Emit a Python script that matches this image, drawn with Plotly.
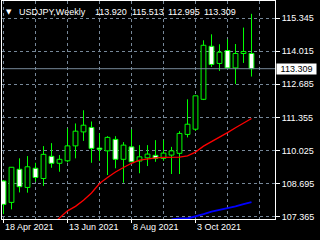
import plotly.graph_objects as go
import pandas as pd

# ---- data (weekly USDJPY candles) ----
weeks = pd.date_range("2021-04-18", periods=32, freq="7D")
opens = [108.80, 107.94, 109.27, 108.54, 109.31, 108.90, 109.79, 109.51, 109.61, 110.21,
         110.77, 110.95, 110.12, 110.01, 110.47, 109.67, 110.17, 109.60, 109.73, 109.83,
         109.71, 109.84, 109.91, 110.67, 110.88, 112.08, 114.21, 113.52, 114.04, 113.34,
         113.92, 113.920]
highs = [108.84, 109.36, 109.71, 109.80, 109.53, 110.20, 110.32, 109.84, 110.91, 111.11,
         111.64, 111.19, 110.71, 110.60, 110.60, 110.36, 110.87, 110.24, 110.24, 110.44,
         110.44, 110.17, 110.80, 112.08, 112.22, 114.45, 114.69, 114.29, 114.49, 114.30,
         114.96, 115.513]
lows = [107.47, 107.66, 108.34, 108.33, 108.77, 108.60, 109.33, 109.17, 109.55, 109.71,
        110.41, 109.53, 109.61, 109.04, 109.31, 108.73, 109.57, 109.11, 109.40, 109.57,
        109.61, 109.08, 109.08, 110.55, 110.81, 112.05, 113.38, 113.22, 113.30, 112.69,
        113.54, 112.995]
closes = [107.86, 109.35, 108.57, 109.37, 108.94, 109.87, 109.51, 109.67, 110.21, 110.80,
          111.04, 110.11, 110.07, 110.55, 109.67, 110.24, 109.57, 109.77, 109.88, 109.71,
          109.92, 110.01, 110.71, 111.08, 112.22, 114.25, 113.48, 113.97, 113.34, 113.92,
          114.00, 113.309]
ma_red = [None] * 6 + [107.03, 107.33, 107.60, 107.78, 108.03, 108.32, 108.70, 108.94,
                       109.16, 109.34, 109.51, 109.64, 109.70, 109.73, 109.75, 109.75,
                       109.76, 109.81, 109.96, 110.20, 110.37, 110.56, 110.74, 110.94,
                       111.12, 111.31]
ma_blue = [None] * 21 + [107.25, 107.29, 107.29, 107.37, 107.47, 107.57, 107.63, 107.70,
                         107.78, 107.87, 107.95]
y_ticks = [107.365, 108.695, 110.025, 111.355, 112.685, 114.015, 115.345]
x_label_idx = [0, 8, 16, 24]
x_grid_minor = [4, 12, 20, 28, 32]
symbol = "USDJPY,Weekly"

FONT = "Liberation Sans, Arial, sans-serif"
LIME = "#00FF00"
GRID = "#778899"

idx = list(range(len(opens)))
fig = go.Figure()

# bodies
fig.add_trace(go.Bar(
    x=idx,
    base=[min(o, c) for o, c in zip(opens, closes)],
    y=[max(abs(c - o), 0.01) for o, c in zip(opens, closes)],
    width=0.6,
    marker=dict(color=["#FFFFFF" if c < o else "#000000" for o, c in zip(opens, closes)],
                line=dict(color=LIME, width=1)),
    hoverinfo="skip",
))

# wicks
wx, wy = [], []
for i, o, h, l, c in zip(idx, opens, highs, lows, closes):
    wx += [i, i, None, i, i, None]
    wy += [l, min(o, c), None, max(o, c), h, None]
fig.add_trace(go.Scatter(x=wx, y=wy, mode="lines", line=dict(color=LIME, width=1),
                         hoverinfo="skip"))

# moving averages
fig.add_trace(go.Scatter(x=idx, y=ma_red, mode="lines", line=dict(color="#FF0000", width=1.3),
                         hoverinfo="skip"))
fig.add_trace(go.Scatter(x=idx, y=ma_blue, mode="lines", line=dict(color="#0000FF", width=2),
                         hoverinfo="skip"))

# current price line
fig.add_shape(type="line", xref="paper", x0=0, x1=1, yref="y", y0=closes[-1], y1=closes[-1],
              line=dict(color=GRID, width=1))

fig.update_layout(
    width=320, height=240,
    margin=dict(l=2, r=45, t=1, b=21, pad=0),
    paper_bgcolor="#000000", plot_bgcolor="#000000",
    showlegend=False,
    font=dict(family=FONT, size=9, color="#FFFFFF"),
    barmode="overlay",
)

fig.update_xaxes(
    range=[-0.1875, 33.9375],
    tickmode="array", tickvals=x_label_idx, showticklabels=False,
    ticks="outside", ticklen=3, tickcolor="#FFFFFF",
    showgrid=True, gridcolor=GRID, griddash="3px,3px", gridwidth=1,
    minor=dict(tickmode="array", tickvals=x_grid_minor, showgrid=True, gridcolor=GRID,
               griddash="3px,3px", ticklen=0),
    showline=True, linecolor="#FFFFFF", linewidth=1, mirror=True,
    zeroline=False, fixedrange=True,
)
fig.update_yaxes(
    range=[107.273, 116.028], side="right",
    tickmode="array", tickvals=y_ticks, ticktext=[f"{v:.3f}" for v in y_ticks],
    ticks="outside", ticklen=4, tickcolor="#FFFFFF",
    tickfont=dict(family=FONT, size=9, color="#FFFFFF"),
    showgrid=True, gridcolor=GRID, griddash="3px,3px", gridwidth=1,
    showline=True, linecolor="#FFFFFF", linewidth=1, mirror=True,
    zeroline=False, fixedrange=True,
)

# x labels, left-aligned at their tick
for i in x_label_idx:
    d = weeks[i]
    fig.add_annotation(x=i, y=0, xref="x", yref="paper", xanchor="left", yanchor="top",
                       text=f"{d.day} {d.strftime('%b %Y')}", showarrow=False, yshift=-1,
                       xshift=-1, font=dict(family=FONT, size=9, color="#FFFFFF"))

# title
fig.add_annotation(x=6, y=239 - 11, xref="paper", yref="paper", text="▼", showarrow=False,
                   font=dict(family="DejaVu Sans", size=7, color="#FFFFFF"))
title_nums = [opens[-1], highs[-1], lows[-1], closes[-1]]
texts = [symbol] + [f"{v:.3f}" for v in title_nums]
xs = [17, 93, 129.5, 165.5, 201.5]
for t, xp in zip(texts, xs):
    fig.add_annotation(x=(xp - 2) / 273, y=1, xref="paper", yref="paper", xanchor="left",
                       yanchor="top", yshift=-4, text=t, showarrow=False,
                       font=dict(family=FONT, size=9, color="#FFFFFF"))

# current price label on the axis
fig.add_annotation(x=1, y=closes[-1], xref="paper", yref="y", xanchor="left", yanchor="middle",
                   xshift=1, text=f"{closes[-1]:.3f}", showarrow=False, bgcolor="#FFFFFF",
                   width=37, height=8, borderpad=1, align="center",
                   font=dict(family=FONT, size=9, color="#000000"))

# fix the '▼' annotation to paper coords
fig.layout.annotations[len(x_label_idx)].update(x=9 / 273 - 2 / 273, y=1, yanchor="top",
                                                 xanchor="center", yshift=-5)

fig.write_html("out.html", config={"displayModeBar": False})
